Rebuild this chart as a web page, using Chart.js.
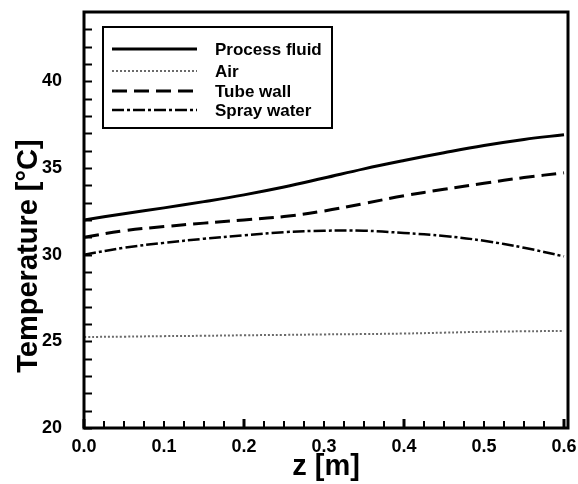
<!DOCTYPE html>
<html>
<head>
<meta charset="utf-8">
<script src="https://cdn.jsdelivr.net/npm/chart.js@4.4.1/dist/chart.umd.min.js"></script>
<style>
  html, body { margin: 0; padding: 0; background: #fff; }
  #wrap { width: 578px; height: 484px; }
</style>
</head>
<body>
<div id="wrap"><canvas id="c" width="578" height="484"></canvas></div>
<script>
const zValues = [0, 0.05, 0.1, 0.15, 0.2, 0.25, 0.3, 0.35, 0.4, 0.45, 0.5, 0.55, 0.6];
const processFluid = [32.0, 32.36, 32.7, 33.06, 33.45, 33.9, 34.42, 34.95, 35.43, 35.88, 36.3, 36.65, 36.92];
const airTemp = [25.25, 25.27, 25.3, 25.32, 25.35, 25.37, 25.4, 25.42, 25.45, 25.5, 25.55, 25.58, 25.6];
const tubeWall = [31.0, 31.38, 31.62, 31.82, 32.0, 32.2, 32.52, 32.95, 33.4, 33.77, 34.12, 34.45, 34.72];
const sprayWater = [30.0, 30.4, 30.68, 30.92, 31.12, 31.3, 31.38, 31.38, 31.25, 31.08, 30.8, 30.4, 29.9];
const seriesNames = ["Process fluid", "Air", "Tube wall", "Spray water"];
const yTickLabels = [20, 25, 30, 35, 40];
const yMinorTicks = [20, 21, 22, 23, 24, 25, 26, 27, 28, 29, 30, 31, 32, 33, 34, 35, 36, 37, 38, 39, 40, 41, 42, 43];
const xTickLabels = [0, 0.1, 0.2, 0.3, 0.4, 0.5, 0.6];
const xMinorTicks = [0, 0.025, 0.05, 0.075, 0.1, 0.125, 0.15, 0.175, 0.2, 0.225, 0.25, 0.275, 0.3, 0.325, 0.35, 0.375, 0.4, 0.425, 0.45, 0.475, 0.5, 0.525, 0.55, 0.575, 0.6];
const yTitle = "Temperature [°C]";
const xTitle = "z [m]";

const FONT = "'Liberation Sans', Arial, sans-serif";

function pts(arr) { return zValues.map((z, i) => ({ x: z, y: arr[i] })); }

const datasets = [
  { label: seriesNames[0], data: pts(processFluid), borderColor: '#000', borderWidth: 3, borderDash: [] },
  { label: seriesNames[1], data: pts(airTemp), borderColor: '#6a6a6a', borderWidth: 2, borderDash: [2, 2] },
  { label: seriesNames[2], data: pts(tubeWall), borderColor: '#000', borderWidth: 3, borderDash: [15, 7] },
  { label: seriesNames[3], data: pts(sprayWater), borderColor: '#000', borderWidth: 2.5, borderDash: [12, 3, 3, 3] }
].map(d => Object.assign(d, { pointRadius: 0, fill: false, tension: 0.4 }));

const isIn = (list, v) => list.some(t => Math.abs(t - v) < 1e-6);

const framePlugin = {
  id: 'frame',
  afterDraw(chart) {
    const ctx = chart.ctx, a = chart.chartArea;
    const xs = chart.scales.x, ys = chart.scales.y;
    ctx.save();
    ctx.strokeStyle = '#000';
    ctx.fillStyle = '#000';
    // inward ticks
    ctx.lineWidth = 2;
    ys.ticks.forEach(t => {
      const y = Math.round(ys.getPixelForValue(t.value)) + 0.5;
      ctx.beginPath(); ctx.moveTo(a.left, y); ctx.lineTo(a.left + 8, y); ctx.stroke();
    });
    xs.ticks.forEach(t => {
      const x = Math.round(xs.getPixelForValue(t.value));
      const major = Math.abs(t.value * 5 - Math.round(t.value * 5)) < 1e-6;
      ctx.lineWidth = major ? 3 : 2;
      ctx.beginPath(); ctx.moveTo(x, a.bottom); ctx.lineTo(x, a.bottom - (major ? 9 : 7)); ctx.stroke();
    });
    // frame
    ctx.lineWidth = 3;
    ctx.strokeRect(a.left, a.top, a.right - a.left, a.bottom - a.top);
    // y title
    ctx.save();
    ctx.translate(29, 256);
    ctx.rotate(-Math.PI / 2);
    ctx.font = 'bold 29px ' + FONT;
    ctx.textAlign = 'center';
    ctx.textBaseline = 'middle';
    ctx.fillText(yTitle, 0, 0);
    ctx.restore();
    // legend
    const lx = 103, ly = 27, lw = 229, lh = 101;
    ctx.lineWidth = 2;
    ctx.strokeRect(lx, ly, lw, lh);
    ctx.font = 'bold 17px ' + FONT;
    ctx.textBaseline = 'middle';
    const rows = [49, 71, 91, 110];
    chart.data.datasets.forEach((d, i) => {
      ctx.save();
      ctx.strokeStyle = d.borderColor;
      ctx.lineWidth = d.borderWidth;
      ctx.setLineDash(d.borderDash);
      ctx.beginPath(); ctx.moveTo(112, rows[i]); ctx.lineTo(197, rows[i]); ctx.stroke();
      ctx.restore();
      ctx.fillText(d.label, 215, rows[i] + 1);
    });
    ctx.restore();
  }
};

new Chart(document.getElementById('c'), {
  type: 'line',
  data: { datasets },
  plugins: [framePlugin],
  options: {
    responsive: false,
    animation: false,
    layout: { padding: { top: 12, right: 10, left: 0, bottom: 0 } },
    plugins: { legend: { display: false }, tooltip: { enabled: false } },
    scales: {
      x: {
        type: 'linear', min: 0, max: 0.605,
        grid: { display: false, drawTicks: false },
        border: { display: false },
        afterBuildTicks(s) { s.ticks = xMinorTicks.map(v => ({ value: v })); },
        ticks: {
          autoSkip: false, maxRotation: 0, padding: 8,
          color: '#000', font: { family: FONT, size: 18, weight: 'bold' },
          callback: v => isIn(xTickLabels, v) ? v.toFixed(1) : ''
        },
        title: { display: true, text: xTitle, color: '#000', font: { family: FONT, size: 29, weight: 'bold' }, padding: { top: 0, bottom: 0 } },
        afterFit(s) { s.height = 56; s.paddingLeft = 0; s.paddingRight = 0; }
      },
      y: {
        min: 20, max: 44,
        grid: { display: false, drawTicks: false },
        border: { display: false },
        afterBuildTicks(s) { s.ticks = yMinorTicks.map(v => ({ value: v })); },
        ticks: {
          autoSkip: false, padding: 22,
          color: '#000', font: { family: FONT, size: 18, weight: 'bold' },
          callback: v => isIn(yTickLabels, v) ? String(v) : ''
        },
        title: { display: false },
        afterFit(s) { s.width = 84; s.paddingTop = 0; s.paddingBottom = 0; }
      }
    }
  }
});
</script>
</body>
</html>
